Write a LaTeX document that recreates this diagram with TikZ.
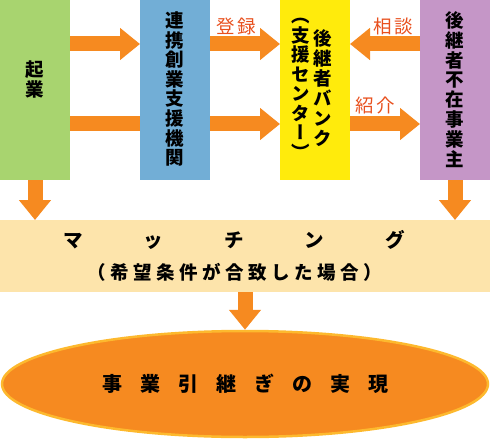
\documentclass[tikz,border=0pt]{standalone}
\usepackage{fontspec}
\setmainfont{Noto Sans CJK JP}
\newfontfamily\tatefont{Noto Sans CJK JP}[RawFeature=+vert]
\usetikzlibrary{arrows.meta,shapes.geometric}

\definecolor{kigyoiro}{HTML}{A8D46F}
\definecolor{renkeiiro}{HTML}{72AED6}
\definecolor{bankiro}{HTML}{FFEB0C}
\definecolor{jigyoiro}{HTML}{C596C7}
\definecolor{yajiiro}{HTML}{F68A20}
\definecolor{mojiiro}{HTML}{E8501E}
\definecolor{obiiro}{HTML}{FDE4AB}
\definecolor{fuchiiro}{HTML}{FDB92E}

\newcommand{\mgap}{\hspace{61pt}}
\newcommand{\jgap}{\hspace{4.5pt}}
\newcommand{\kgap}{\hspace{18pt}}
\newcommand{\lgap}{\hspace{2pt}}

\begin{document}
\begin{tikzpicture}[x=1pt,y=-1pt,
    hako/.style={minimum width=70pt,minimum height=180pt,inner sep=0pt,outer sep=0pt,anchor=north west},
    tate/.style={align=center,inner sep=0pt,font=\tatefont\bfseries\fontsize{18.5}{20}\selectfont},
    ya/.style={yajiiro,line width=15pt,-{Triangle[width=31pt,length=20pt]}},
    bou/.style={yajiiro,line width=15pt},
    rabel/.style={text=mojiiro,inner sep=1pt,font=\fontsize{18.5}{18.5}\selectfont}]
  \useasboundingbox (0,0) rectangle (490,441);
  % boxes
  \node[hako,fill=kigyoiro] (kigyo) at (0,0) {};
  \node[hako,fill=renkeiiro] (renkei) at (140,0) {};
  \node[hako,fill=bankiro] (bank) at (280,0) {};
  \node[hako,fill=jigyoiro] (jigyo) at (420,0) {};
  \node[tate] (kigyo-t) at (35,80) {起\\業};
  \node[tate,font=\tatefont\bfseries\fontsize{18.5}{19.6}\selectfont] (renkei-t) at (175,89) {連\\携\\創\\業\\支\\援\\機\\関};
  \node[tate] (bank-r) at (323,88) {後\\継\\者\\バ\\ン\\ク};
  \node[tate,font=\tatefont\bfseries\fontsize{18.5}{19.5}\selectfont] (bank-l) at (301,89) {（\\支\\援\\セ\\ン\\タ\\ー\\）};
  \node[tate,font=\tatefont\bfseries\fontsize{18.5}{19.9}\selectfont] (jigyo-t) at (455,89.5) {後\\継\\者\\不\\在\\事\\業\\主};
  % matching band and result
  \node[minimum width=490pt,minimum height=72pt,inner sep=0pt,outer sep=0pt,fill=obiiro,anchor=north west] (matching) at (0,220) {};
  \node[font=\bfseries\fontsize{19.5}{19.5}\selectfont] (matching-a) at (234,240) {マ\mgap ッ\mgap チ\mgap ン\mgap グ};
  \node[font=\bfseries\fontsize{18.5}{18.5}\selectfont] (matching-b) at (235,272) {（\jgap 希\jgap 望\jgap 条\jgap 件\jgap が\jgap 合\jgap 致\jgap し\jgap た\jgap 場\jgap 合\jgap ）};
  \node[ellipse,fill=yajiiro,draw=fuchiiro,line width=2.5pt,minimum width=486pt,minimum height=106pt,inner sep=0pt,font=\bfseries\fontsize{20}{20}\selectfont] (jitsugen) at (245,384) {事\kgap 業\kgap 引\kgap 継\kgap ぎ\kgap の\kgap 実\kgap 現};
  % arrows
  \draw[ya] ([yshift=46pt]kigyo.east) -- ([yshift=46pt]renkei.west);
  \draw[bou] ([yshift=-34pt]kigyo.east) -- ([yshift=-34pt]renkei.west);
  \draw[ya] ([yshift=46pt]renkei.east) -- ([yshift=46pt]bank.west);
  \draw[ya] ([yshift=-34pt]renkei.east) -- ([yshift=-34pt]bank.west);
  \draw[ya] ([yshift=46pt]jigyo.west) -- ([yshift=46pt]bank.east);
  \draw[ya] ([yshift=-34pt]bank.east) -- ([yshift=-34pt]jigyo.west);
  \draw[ya] (kigyo.south) -- (kigyo.south |- matching.north);
  \draw[ya] (jigyo.south) -- (jigyo.south |- matching.north);
  \draw[ya] (matching.south) -- (jitsugen.north);
  % labels
  \node[rabel] (touroku) at (236,26) {登\lgap 録};
  \node[rabel] (soudan) at (393,26) {相\lgap 談};
  \node[rabel] (shoukai) at (375,105) {紹\lgap 介};
\end{tikzpicture}
\end{document}
